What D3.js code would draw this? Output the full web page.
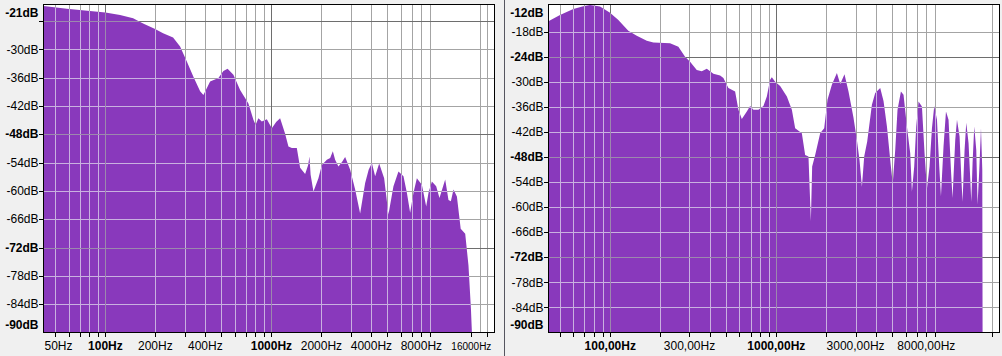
<!DOCTYPE html>
<html><head><meta charset="utf-8">
<script src="https://cdn.jsdelivr.net/npm/d3@7"></script>
<style>
html,body{margin:0;padding:0;background:#f0f0f0;overflow:hidden;}
svg{display:block;}
text{font-family:"Liberation Sans", Arial, sans-serif;font-size:12px;fill:#000;}
</style></head><body>
<svg id="c" width="1002" height="356"></svg>
<script>
// ---------- data ----------
const leftFreq = [42.4,58.6,100,122.6,146.9,168.7,199.3,222.6,255.7,281.8,309.4,338.9,372,389.4,427.3,479.5,513.8,544.6,590.3,647.8,726.8,779,803,835,875.3,938.3,1005.6,1067.4,1128,1209,1266,1327,1422,1489,1596,1664,1694,1722,1791,1919,2012,2157,2258,2343,2419,2533,2667,2780,2980,3193,3422,3668,3851,4025,4214,4455,4774,5067,5431,5821,6240,6542,6846,7168,7515,8054,8552,8830,9255,9822,10280,11130,11650,12040,12490,13090,13800,14690,15370,15900,16120];
const leftDb = [-20.8,-21.4,-22.2,-22.7,-23.4,-24.5,-25.7,-26.6,-27.5,-29.4,-32.6,-35.8,-38.9,-39.7,-36.8,-36.1,-34.6,-34.1,-35.4,-38.6,-41.5,-44.9,-46.0,-44.6,-45.3,-44.8,-46.7,-45.4,-44.6,-47.9,-50.6,-50.9,-50.9,-55.1,-56.4,-54.5,-52.7,-56.6,-60.1,-57.3,-54.5,-53.4,-53.0,-51.6,-53.4,-54.8,-53.8,-52.8,-55.5,-59.7,-64.8,-58.3,-55.5,-54.1,-56.9,-54.2,-57.3,-65.0,-59.0,-55.9,-56.9,-60.4,-64.6,-60.4,-57.3,-58.7,-63.3,-60.4,-58.0,-59.0,-61.5,-57.6,-61.9,-62.2,-59.7,-61.2,-68.0,-69.1,-75.8,-84.9,-90];

const rightFreq = [42.5,43.0,49.85,59.96,68.87,75.54,86.83,99.7,111.9,128.5,144.4,166.0,181.8,229.2,257.2,282.2,302.5,331.9,355.7,381.3,417.9,458.6,480.1,514.6,564.7,591.2,619.7,664.2,695.4,727.8,780.2,836.0,876.4,917.5,939.7,983.5,1054,1157,1240,1298,1424,1491,1561,1614,1643,1713,1836,1941,2032,2159,2315,2424,2572,2719,2914,3054,3167,3274,3380,3524,3761,3937,4220,4418,4632,4883,5020,5196,5364,5623,5830,6110,6397,6550,6761,6952,7178,7524,7801,8066,8362,8645,8925,9268,9566,9795,10150,10500,10880,11250,11500,11940,12230,12680,12980,13210,13590,13910,14360,14710,14910,15180,15540,15980,16270,16660,17060,17370,17440];
const rightDb = [-15.6,-15.4,-14.0,-12.6,-11.9,-11.6,-12.0,-13.5,-15.2,-17.8,-19.0,-20.2,-20.6,-20.8,-21.6,-24.0,-25.2,-27.2,-27.5,-26.9,-28.1,-28.5,-29.1,-31.5,-32.3,-36.7,-38.9,-37.1,-35.8,-36.7,-36.7,-35.8,-33.5,-29.5,-28.9,-30.0,-31.0,-33.5,-36.7,-41.1,-42.3,-47.5,-47.9,-63.4,-50.3,-47.5,-42.3,-41.1,-34.3,-30.7,-27.9,-30.5,-28.2,-32.3,-38.6,-43.9,-48.7,-55.1,-47.9,-44.3,-35.5,-32.7,-31.5,-34.6,-40.7,-49.9,-54.4,-46.3,-36.7,-32.3,-33.1,-40.7,-47.1,-56.3,-50.3,-40.7,-34.7,-35.9,-47.1,-55.6,-50.3,-41.1,-35.8,-39.1,-50.3,-57.4,-45.5,-37.1,-39.1,-51.1,-57.8,-43.9,-39.1,-43.1,-52.7,-58.7,-46.3,-39.8,-44.7,-53.5,-58.7,-49.5,-40.7,-46.3,-59.4,-51.1,-41.1,-51.1,-90];

const leftGridFreqs = [50,60,70,80,90,200,300,400,500,600,700,800,900,2000,3000,4000,5000,6000,7000,8000,9000,18000,20000];
const leftTickFreqs = [50,60,70,80,90,100,200,300,400,500,600,700,800,900,1000,2000,3000,4000,5000,6000,7000,8000,9000,16000,20000];
const leftXLabelFreqs = [50,100,200,400,1000,2000,4000,8000,16000];
const leftXLabels = ["50Hz","100Hz","200Hz","400Hz","1000Hz","2000Hz","4000Hz","8000Hz","16000Hz"];
const leftBoldX = ["100Hz","1000Hz"];
const leftSmallX = ["16000Hz"];
const leftDbLabelValues = [-21,-30,-36,-42,-48,-54,-60,-66,-72,-78,-84,-90];
const leftDbLabels = ["-21dB","-30dB","-36dB","-42dB","-48dB","-54dB","-60dB","-66dB","-72dB","-78dB","-84dB","-90dB"];
const leftBoldDb = [-21,-48,-72,-90];
const leftDbTicks = [-24,-30,-36,-42,-48,-54,-60,-66,-72,-78,-84];

const rightGridFreqs = [50,60,70,80,90,200,300,400,500,600,700,800,900,2000,3000,4000,5000,6000,7000,8000,9000,20000];
const rightTickFreqs = [50,60,70,80,90,100,200,300,400,500,600,700,800,900,1000,2000,3000,4000,5000,6000,7000,8000,9000,20000];
const rightXLabelFreqs = [100,300,1000,3000,8000];
const rightXLabels = ["100,00Hz","300,00Hz","1000,00Hz","3000,00Hz","8000,00Hz"];
const rightBoldX = ["100,00Hz","1000,00Hz"];
const rightDbLabelValues = [-12,-18,-24,-30,-36,-42,-48,-54,-60,-66,-72,-78,-84,-90];
const rightDbLabels = ["-12dB","-18dB","-24dB","-30dB","-36dB","-42dB","-48dB","-54dB","-60dB","-66dB","-72dB","-78dB","-84dB","-90dB"];
const rightBoldDb = [-12,-24,-48,-72,-90];
const rightDbTicks = [-18,-24,-30,-36,-42,-48,-54,-60,-66,-72,-78,-84];

const majorFreqs = [100,1000];
const majorDb = [-24,-48,-72];

// ---------- drawing ----------
const svg = d3.select("#c");
svg.append("rect").attr("width",1002).attr("height",356).attr("fill","#f0f0f0");
svg.append("line").attr("x1",504.5).attr("x2",504.5).attr("y1",0).attr("y2",356)
   .attr("stroke","#55555f").attr("stroke-width",1);

const PURPLE = "#8939bc";

function drawPanel(p, id) {
  const x = d3.scaleLog().domain(p.fDomain).range([p.x0, p.x1]);
  const y = d3.scaleLinear().domain(p.dbDomain).range([p.y1, p.y0]);
  const px = v => Math.round(v) + 0.5;
  const g = svg.append("g");
  g.append("rect").attr("x",p.x0).attr("y",p.y0).attr("width",p.x1-p.x0).attr("height",p.y1-p.y0).attr("fill","#fff");

  function grid(sel, cMinor, cMajor) {
    const minorDb = p.dbTicks.filter(d => !majorDb.includes(d));
    const majDb = p.dbTicks.filter(d => majorDb.includes(d));
    sel.selectAll(null).data(p.gridFreqs).join("line")
      .attr("x1",d=>px(x(d))).attr("x2",d=>px(x(d))).attr("y1",p.y0).attr("y2",p.y1).attr("stroke",cMinor);
    sel.selectAll(null).data(minorDb).join("line")
      .attr("x1",p.x0).attr("x2",p.x1).attr("y1",d=>px(y(d))).attr("y2",d=>px(y(d))).attr("stroke",cMinor);
    sel.selectAll(null).data(majorFreqs).join("line")
      .attr("x1",d=>px(x(d))).attr("x2",d=>px(x(d))).attr("y1",p.y0).attr("y2",p.y1).attr("stroke",cMajor);
    sel.selectAll(null).data(majDb).join("line")
      .attr("x1",p.x0).attr("x2",p.x1).attr("y1",d=>px(y(d))).attr("y2",d=>px(y(d))).attr("stroke",cMajor);
  }
  grid(g.append("g").attr("shape-rendering","crispEdges"), "#a4a4a4", "#6e6e6e");

  const data = p.freq.map((f,i)=>({f, db:p.db[i]}));
  const area = d3.area().x(d=>x(d.f)).y0(y(-90)).y1(d=>y(d.db));
  const areaD = area(data);
  g.append("path").attr("d",areaD).attr("fill",PURPLE);
  g.append("clipPath").attr("id",id).append("path").attr("d",areaD);
  grid(g.append("g").attr("clip-path",`url(#${id})`).attr("shape-rendering","crispEdges"), "#c9b0e0", "#9c88ad");

  g.append("rect").attr("x",p.x0).attr("y",p.y0).attr("width",p.x1-p.x0).attr("height",p.y1-p.y0)
    .attr("fill","none").attr("stroke","#000").attr("shape-rendering","crispEdges");

  // axes ticks
  const ax = d3.axisBottom(x).tickValues(p.tickFreqs).tickFormat("").tickSize(4).tickSizeOuter(0);
  const axG = g.append("g").attr("transform",`translate(0,${p.y1})`).call(ax);
  axG.select(".domain").remove();
  axG.selectAll("line").attr("stroke","#000").attr("shape-rendering","crispEdges")
     .attr("transform", function(){ return null; });
  axG.selectAll(".tick").attr("transform", d => `translate(${px(x(d))},0)`);
  const ay = d3.axisLeft(y).tickValues(p.dbTicks).tickFormat("").tickSize(5).tickSizeOuter(0);
  const ayG = g.append("g").attr("transform",`translate(${p.x0},0)`).call(ay);
  ayG.select(".domain").remove();
  ayG.selectAll("line").attr("stroke","#000").attr("shape-rendering","crispEdges");
  ayG.selectAll(".tick").attr("transform", d => `translate(0,${px(y(d))})`);

  // y labels
  p.dbLabelValues.forEach((v,i) => {
    let yy = y(v);
    yy = Math.max(p.y0 + 8.7, Math.min(p.y1 - 7.6, yy));
    g.append("text").attr("x",p.x0-5).attr("y",yy).attr("dy","0.35em").attr("text-anchor","end")
      .attr("font-weight", p.boldDb.includes(v) ? "bold" : "normal").text(p.dbLabels[i]);
  });
  // x labels
  p.xLabelFreqs.forEach((f,i) => {
    const lab = p.xLabels[i];
    const t = g.append("text").attr("y",350).attr("text-anchor","middle")
      .attr("font-weight", p.boldX.includes(lab) ? "bold" : "normal")
      .style("font-size", (p.smallX||[]).includes(lab) ? "10px" : "12px")
      .text(lab);
    const w = t.node().getComputedTextLength();
    let cx = x(f);
    if (cx - w/2 < p.x0 + 1) cx = p.x0 + 1 + w/2;
    t.attr("x", cx);
  });
}

drawPanel({
  x0:43.5, x1:494.5, y0:4.5, y1:332.5,
  fDomain:[42.4,22050], dbDomain:[-90,-20.5],
  freq:leftFreq, db:leftDb, gridFreqs:leftGridFreqs, tickFreqs:leftTickFreqs,
  xLabelFreqs:leftXLabelFreqs, xLabels:leftXLabels, boldX:leftBoldX, smallX:leftSmallX,
  dbLabelValues:leftDbLabelValues, dbLabels:leftDbLabels, boldDb:leftBoldDb, dbTicks:leftDbTicks
}, "clipL");

drawPanel({
  x0:548.5, x1:999.5, y0:4.5, y1:332.5,
  fDomain:[42.5,22050], dbDomain:[-90,-11.5],
  freq:rightFreq, db:rightDb, gridFreqs:rightGridFreqs, tickFreqs:rightTickFreqs,
  xLabelFreqs:rightXLabelFreqs, xLabels:rightXLabels, boldX:rightBoldX,
  dbLabelValues:rightDbLabelValues, dbLabels:rightDbLabels, boldDb:rightBoldDb, dbTicks:rightDbTicks
}, "clipR");
</script>
</body></html>
